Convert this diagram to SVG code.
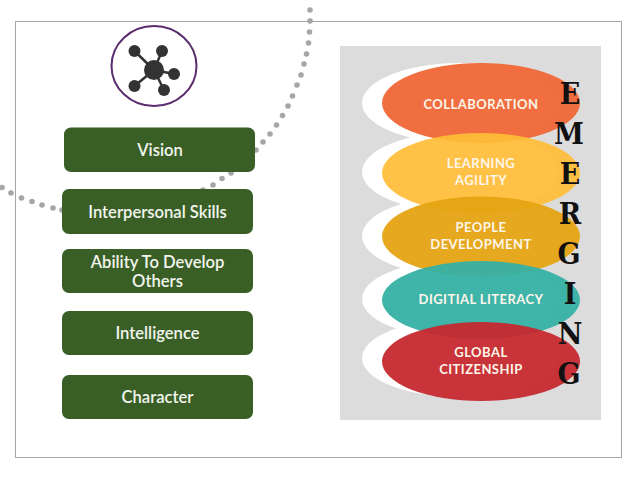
<svg xmlns="http://www.w3.org/2000/svg" width="638" height="479" viewBox="0 0 638 479">
<style>
.box{fill:#3a5f26}
.bt{font:600 16.600px "Lato","Open Sans",sans-serif;fill:#f2f5ee;text-anchor:middle}
.et{font:700 13px "Lato","Open Sans",sans-serif;fill:#fdf6ea;text-anchor:middle;letter-spacing:.45px}
.let{font:700 30px "DejaVu Serif Condensed","DejaVu Serif",serif;fill:#111;text-anchor:middle}
.dot{fill:#a6a6a6}
.wh{fill:#fff}
.n{fill:#333}
.l{stroke:#333;stroke-width:2.500}
</style>
<rect x="15.500" y="21.500" width="606" height="436" fill="#fff" stroke="#a6a6a6" stroke-width="1"/>
<g id="dots">
<circle class="dot" cx="310" cy="10" r="2.800"/><circle class="dot" cx="310" cy="21" r="2.800"/><circle class="dot" cx="309.500" cy="32" r="2.800"/><circle class="dot" cx="308.500" cy="43" r="2.800"/><circle class="dot" cx="306.500" cy="54" r="2.800"/><circle class="dot" cx="304" cy="64" r="2.800"/><circle class="dot" cx="301" cy="75" r="2.800"/><circle class="dot" cx="297" cy="85" r="2.800"/><circle class="dot" cx="292.500" cy="96" r="2.800"/><circle class="dot" cx="288" cy="106" r="2.800"/><circle class="dot" cx="282.500" cy="115.500" r="2.800"/><circle class="dot" cx="276.500" cy="125" r="2.800"/><circle class="dot" cx="270" cy="134" r="2.800"/><circle class="dot" cx="263" cy="142" r="2.800"/><circle class="dot" cx="256" cy="150" r="2.800"/><circle class="dot" cx="231" cy="173" r="2.800"/><circle class="dot" cx="222" cy="178.500" r="2.800"/><circle class="dot" cx="213" cy="185" r="2.800"/><circle class="dot" cx="203" cy="190" r="2.800"/><circle class="dot" cx="2" cy="187.500" r="2.800"/><circle class="dot" cx="11" cy="193" r="2.800"/><circle class="dot" cx="21.500" cy="198" r="2.800"/><circle class="dot" cx="32" cy="201.500" r="2.800"/><circle class="dot" cx="42" cy="205" r="2.800"/><circle class="dot" cx="53" cy="208" r="2.800"/><circle class="dot" cx="62" cy="210" r="2.800"/>
</g>
<g id="connectors"></g>
<g id="icon">
<ellipse cx="154" cy="66" rx="42.500" ry="40" fill="#fff" stroke="#5b2d6e" stroke-width="2"/>
<path class="l" d="M134.500 51 154 70M162 51 154 70M174 74 154 70M134.500 86 154 70M164 90 154 70" fill="none"/>
<circle class="n" cx="154" cy="70" r="10"/><circle class="n" cx="134.500" cy="51" r="6"/><circle class="n" cx="162" cy="51" r="6"/><circle class="n" cx="174" cy="74" r="6"/><circle class="n" cx="134.500" cy="86" r="6"/><circle class="n" cx="164" cy="90" r="6"/>
</g>
<g id="vision"><rect class="box" x="64" y="127.500" width="191" height="44.500" rx="7"/><text class="bt" x="160" y="156">Vision</text></g>
<g id="interpersonal"><rect class="box" x="62" y="189" width="191" height="45" rx="7"/><text class="bt" x="157.500" y="218">Interpersonal Skills</text></g>
<g id="ability"><rect class="box" x="62" y="249" width="191" height="44" rx="7"/><text class="bt" x="157.500" y="268">Ability To Develop</text><text class="bt" x="157.500" y="287">Others</text></g>
<g id="intelligence"><rect class="box" x="62" y="311" width="191" height="44" rx="7"/><text class="bt" x="157.500" y="339">Intelligence</text></g>
<g id="character"><rect class="box" x="62" y="375" width="191" height="44" rx="7"/><text class="bt" x="157.500" y="403">Character</text></g>
<rect x="340" y="46" width="261" height="374" fill="#dcdcdc"/>
<g id="crescents">
<ellipse class="wh" cx="460" cy="103" rx="98" ry="40"/><ellipse class="wh" cx="460" cy="172" rx="98" ry="40"/><ellipse class="wh" cx="460" cy="236" rx="98" ry="40"/><ellipse class="wh" cx="460" cy="299" rx="98" ry="39"/><ellipse class="wh" cx="460" cy="358" rx="98" ry="39"/>
</g>
<g id="collaboration"><ellipse cx="481" cy="103" rx="99" ry="40" fill="#f0693a" fill-opacity=".97"/><text class="et" x="481" y="108.500">COLLABORATION</text></g>
<g id="learning"><ellipse cx="481" cy="173" rx="99" ry="40" fill="#ffbd38" fill-opacity=".93"/><text class="et" x="481" y="168">LEARNING</text><text class="et" x="481" y="185">AGILITY</text></g>
<g id="people"><ellipse cx="481" cy="236.500" rx="99" ry="40" fill="#e5a312" fill-opacity=".95"/><text class="et" x="481" y="232">PEOPLE</text><text class="et" x="481" y="249">DEVELOPMENT</text></g>
<g id="digital"><ellipse cx="481" cy="300" rx="99" ry="39" fill="#35b0a4" fill-opacity=".95"/><text class="et" x="481" y="304">DIGITIAL LITERACY</text></g>
<g id="global"><ellipse cx="481" cy="361.500" rx="99" ry="39.500" fill="#c5292e" fill-opacity=".95"/><text class="et" x="481" y="357">GLOBAL</text><text class="et" x="481" y="374">CITIZENSHIP</text></g>
<g id="emerging">
<text class="let" x="570" y="104">E</text><text class="let" x="569" y="144">M</text><text class="let" x="570" y="184">E</text><text class="let" x="570" y="224">R</text><text class="let" x="569" y="264">G</text><text class="let" x="570" y="304">I</text><text class="let" x="570" y="344">N</text><text class="let" x="569" y="384">G</text>
</g>
</svg>
